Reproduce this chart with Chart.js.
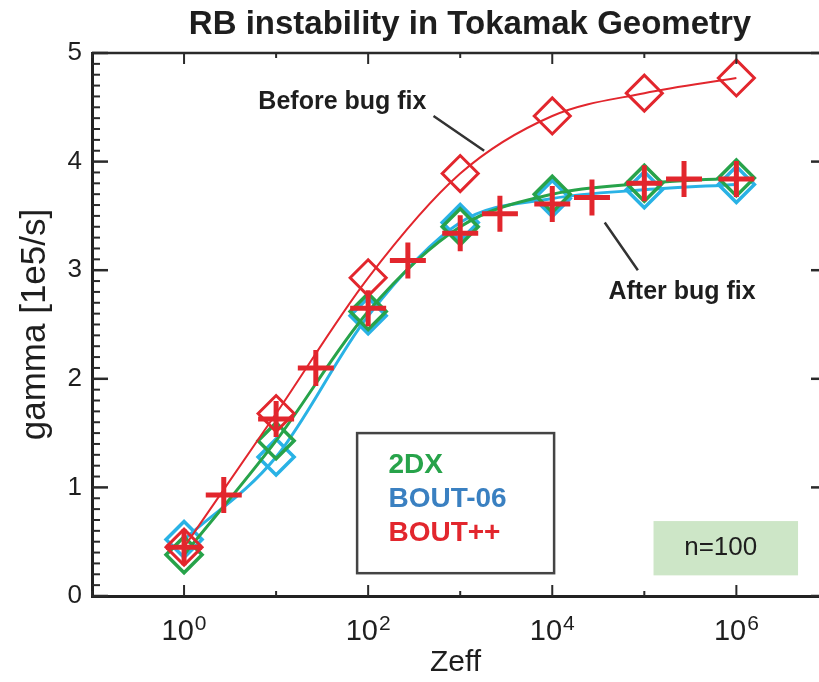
<!DOCTYPE html>
<html>
<head>
<meta charset="utf-8">
<script src="https://cdn.jsdelivr.net/npm/chart.js@4.4.0/dist/chart.umd.min.js"></script>
<style>
  html, body { margin: 0; padding: 0; background: #fff; overflow: hidden; }
  canvas { display: block; }
</style>
</head>
<body>
<canvas id="chart" width="819" height="682"></canvas>
<script>
// values
const zeffDiamond = [1, 10, 100, 1e3, 1e4, 1e5, 1e6];
const gamma2dx = [0.38, 1.43, 2.62, 3.40, 3.70, 3.80, 3.85];
const gammaBout06 = [0.52, 1.28, 2.58, 3.44, 3.66, 3.74, 3.79];
const gammaBeforeFix = [0.45, 1.68, 2.93, 3.89, 4.42, 4.63, 4.77];
const zeffPlus = [1, 2.7, 10, 27, 100, 270, 1e3, 2.7e3, 1e4, 2.7e4, 1e5, 2.7e5, 1e6];
const gammaBoutpp = [0.45, 0.93, 1.63, 2.10, 2.65, 3.09, 3.34, 3.52, 3.61, 3.67, 3.80, 3.84, 3.84];
const decades = [-1, 0, 1, 2, 3, 4, 5, 6];
const labelledDecades = [0, 2, 4, 6];
const legendNames = ['2DX', 'BOUT-06', 'BOUT++'];

const red = '#e2262d', green = '#27a34a', cyan = '#29b2e5', blue = '#3a80c1', ink = '#1e1e1e';
const FONT = '"Liberation Sans", Arial, sans-serif';

const pts = (xs, ys) => xs.map((v, i) => ({x: v, y: ys[i]}));

const decor = {
  id: 'decor',
  afterDraw(chart) {
    const {ctx, chartArea: a, scales: {x, y}} = chart;
    const at = (lx, v) => [x.getPixelForValue(Math.pow(10, lx)), y.getPixelForValue(v)];
    ctx.save();
    ctx.strokeStyle = '#2a2a2a';
    ctx.lineWidth = 2.5;
    ctx.beginPath();
    ctx.moveTo(a.left, a.top); ctx.lineTo(a.right, a.top);
    ctx.stroke();

    // inward ticks, x
    ctx.lineWidth = 2;
    decades.forEach(e => {
      const px = x.getPixelForValue(Math.pow(10, e));
      const len = e % 2 === 0 ? 11 : 5;
      ctx.beginPath();
      ctx.moveTo(px, a.bottom); ctx.lineTo(px, a.bottom - len);
      ctx.moveTo(px, a.top); ctx.lineTo(px, a.top + len);
      ctx.stroke();
    });
    // inward ticks, y (minor every 0.1); right axis itself lies just off the canvas
    for (let i = 0; i <= 50; i++) {
      const py = y.getPixelForValue(i / 10);
      const len = i % 10 === 0 ? 16 : 8;
      ctx.lineWidth = i % 10 === 0 ? 2.5 : 2;
      ctx.strokeStyle = '#2a2a2a';
      ctx.beginPath();
      ctx.moveTo(a.left, py); ctx.lineTo(a.left + len, py);
      ctx.stroke();
      ctx.strokeStyle = i % 10 === 0 ? '#2a2a2a' : '#999';
      ctx.beginPath();
      ctx.moveTo(a.right + 8, py); ctx.lineTo(a.right + 8 - len, py);
      ctx.stroke();
    }

    // x tick labels 10^n
    ctx.fillStyle = ink;
    ctx.textBaseline = 'alphabetic';
    ctx.textAlign = 'left';
    labelledDecades.forEach(e => {
      const px = x.getPixelForValue(Math.pow(10, e));
      ctx.font = '29px ' + FONT;
      const w1 = ctx.measureText('10').width;
      ctx.font = '21px ' + FONT;
      const w2 = ctx.measureText(String(e)).width;
      const x0 = px - (w1 + w2 + 1) / 2;
      ctx.font = '29px ' + FONT;
      ctx.fillText('10', x0, a.bottom + 44);
      ctx.font = '21px ' + FONT;
      ctx.fillText(String(e), x0 + w1 + 1, a.bottom + 34);
    });

    // title
    ctx.textAlign = 'center';
    ctx.textBaseline = 'middle';
    ctx.font = 'bold 33px ' + FONT;
    ctx.fillText('RB instability in Tokamak Geometry', 470, 25);

    // annotations
    ctx.font = 'bold 25px ' + FONT;
    ctx.fillText('Before bug fix', ...at(1.72, 4.55));
    ctx.fillText('After bug fix', ...at(5.41, 2.80));
    ctx.strokeStyle = '#333';
    ctx.lineWidth = 2.5;
    ctx.beginPath();
    ctx.moveTo(...at(2.71, 4.42)); ctx.lineTo(...at(3.26, 4.10));
    ctx.moveTo(...at(4.57, 3.44)); ctx.lineTo(...at(4.93, 3.00));
    ctx.stroke();

    // legend box
    const [bx0, by0] = at(1.88, 1.50), [bx1, by1] = at(4.02, 0.21);
    ctx.fillStyle = '#fff';
    ctx.fillRect(bx0, by0, bx1 - bx0, by1 - by0);
    ctx.strokeStyle = '#444';
    ctx.lineWidth = 2.5;
    ctx.strokeRect(bx0, by0, bx1 - bx0, by1 - by0);
    ctx.textAlign = 'left';
    ctx.font = 'bold 28px ' + FONT;
    [green, blue, red].forEach((c, i) => {
      ctx.fillStyle = c;
      ctx.fillText(legendNames[i], ...at(2.22, 1.20 - i * 0.31));
    });

    // n=100 box
    const [nx0, ny0] = at(5.10, 0.69), [nx1, ny1] = at(6.67, 0.19);
    ctx.fillStyle = '#cde6c7';
    ctx.fillRect(nx0, ny0, nx1 - nx0, ny1 - ny0);
    ctx.fillStyle = ink;
    ctx.textAlign = 'center';
    ctx.font = '26px ' + FONT;
    ctx.fillText('n=100', ...at(5.83, 0.44));
    ctx.restore();
  }
};

new Chart(document.getElementById('chart'), {
  type: 'line',
  data: {
    datasets: [
      {
        label: 'BOUT++',
        data: pts(zeffPlus, gammaBoutpp),
        showLine: false,
        pointStyle: 'cross',
        pointRadius: 18,
        pointBorderWidth: 5,
        borderColor: red
      },
      {
        label: 'before fix',
        data: pts(zeffDiamond, gammaBeforeFix),
        borderColor: red,
        borderWidth: 2,
        pointStyle: 'rectRot',
        pointRadius: 18,
        pointBorderWidth: 3,
        pointBackgroundColor: 'rgba(0,0,0,0)',
        cubicInterpolationMode: 'monotone'
      },
      {
        label: '2DX',
        data: pts(zeffDiamond, gamma2dx),
        borderColor: green,
        borderWidth: 3,
        pointStyle: 'rectRot',
        pointRadius: 18,
        pointBorderWidth: 3.5,
        pointBackgroundColor: 'rgba(0,0,0,0)',
        cubicInterpolationMode: 'monotone'
      },
      {
        label: 'BOUT-06',
        data: pts(zeffDiamond, gammaBout06),
        borderColor: cyan,
        borderWidth: 3,
        pointStyle: 'rectRot',
        pointRadius: 18,
        pointBorderWidth: 3.5,
        pointBackgroundColor: 'rgba(0,0,0,0)',
        cubicInterpolationMode: 'monotone'
      }
    ]
  },
  options: {
    responsive: false,
    animation: false,
    layout: { autoPadding: false, padding: { top: 53, right: 0, left: 0, bottom: 0 } },
    scales: {
      x: {
        type: 'logarithmic',
        min: 0.1,
        max: 7.9e6,
        afterBuildTicks: s => { s.ticks = decades.map(e => ({value: Math.pow(10, e)})); },
        afterFit: s => { s.height = 86; s.paddingLeft = 0; s.paddingRight = 0; },
        ticks: { display: false, autoSkip: false, maxRotation: 0 },
        grid: { display: true, drawOnChartArea: false, drawTicks: false },
        border: { display: true, color: '#222', width: 3 },
        title: {
          display: true,
          text: 'Zeff',
          color: ink,
          padding: { top: 0, bottom: 1 },
          font: { family: FONT, size: 30 }
        }
      },
      y: {
        min: 0,
        max: 5,
        afterFit: s => { s.width = 92; },
        ticks: {
          stepSize: 1,
          padding: 10,
          color: ink,
          font: { family: FONT, size: 26 }
        },
        grid: { display: true, drawOnChartArea: false, drawTicks: false },
        border: { display: true, color: '#222', width: 3 },
        title: {
          display: true,
          text: 'gamma [1e5/s]',
          color: ink,
          padding: { top: 14, bottom: 0 },
          font: { family: FONT, size: 35 }
        }
      }
    },
    plugins: {
      legend: { display: false },
      tooltip: { enabled: false }
    }
  },
  plugins: [decor]
});
</script>
</body>
</html>
